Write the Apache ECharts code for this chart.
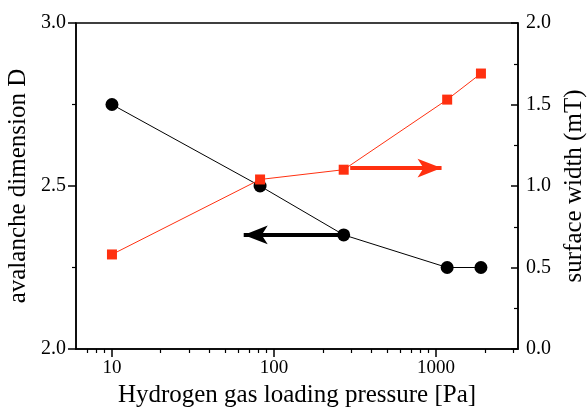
<!DOCTYPE html>
<html>
<head>
    <meta charset="UTF-8">
    <title>avalanche dimension</title>
    <script src="https://cdn.jsdelivr.net/npm/echarts@6/dist/echarts.min.js"></script>
    <style>
        html, body { margin: 0; padding: 0; background: #fff; }
        #main { width: 587px; height: 407px; }
    </style>
</head>
<body>
    <div id="main"></div>
    <script type="text/javascript">
        // data
        var pressure = [10, 82, 269, 1170, 1890];          // Pa
        var dimension = [2.75, 2.50, 2.35, 2.25, 2.25];    // left axis
        var surfaceWidth = [0.58, 1.04, 1.10, 1.53, 1.69]; // right axis, mT

        var xMin = 6, xMax = 3200;
        var majorX = [10, 100, 1000];
        var minorX = [7, 8, 9, 20, 30, 40, 50, 60, 70, 80, 90,
                      200, 300, 400, 500, 600, 700, 800, 900, 2000, 3000];

        // arrows: [start, end] in data units
        var leftArrow = [[255, 2.35], [65, 2.35]];
        var rightArrow = [[295, 1.11], [1080, 1.11]];

        var font = 'Liberation Serif';
        var red = '#ff3010';

        var myChart = echarts.init(document.getElementById('main'));

        var option = {
            animation: false,
            grid: {
                left: 76, right: 69, top: 23, bottom: 58,
                containLabel: false,
                outerBoundsMode: 'none',
                show: true, borderColor: '#000', borderWidth: 1.5,
                backgroundColor: 'transparent'
            },
            xAxis: [{
                type: 'log',
                logBase: 10,
                min: xMin,
                max: xMax,
                position: 'bottom',
                name: 'Hydrogen gas loading pressure [Pa]',
                nameLocation: 'middle',
                nameGap: 30,
                nameTextStyle: { fontFamily: font, fontSize: 25, color: '#000' },
                axisLine: { lineStyle: { color: '#000', width: 1.5 } },
                axisTick: { customValues: majorX, length: 8, lineStyle: { color: '#000', width: 1.5 } },
                axisLabel: {
                    customValues: majorX, fontFamily: font, fontSize: 19, color: '#000', margin: 10,
                    formatter: function (v) { return String(Math.round(v)); }
                },
                splitLine: { show: false },
                minorTick: { show: false }
            }, {
                // minor ticks only, drawn on a linear axis in log10 units
                type: 'value',
                min: Math.log10(xMin),
                max: Math.log10(xMax),
                position: 'bottom',
                axisLine: { show: false },
                axisTick: {
                    show: true,
                    customValues: minorX.map(function (v) { return Math.log10(v); }),
                    length: 4, lineStyle: { color: '#000', width: 1.2 }
                },
                axisLabel: { show: false },
                splitLine: { show: false }
            }],
            yAxis: [{
                type: 'value',
                min: 2,
                max: 3,
                interval: 0.5,
                position: 'left',
                name: 'avalanche dimension D',
                nameLocation: 'middle',
                nameGap: 45,
                nameMoveOverlap: false,
                nameTextStyle: { fontFamily: font, fontSize: 25, color: '#000' },
                axisLine: { show: true, lineStyle: { color: '#000', width: 1.5 } },
                axisTick: { show: true, length: 8, lineStyle: { color: '#000', width: 1.5 } },
                minorTick: { show: true, splitNumber: 2, length: 4, lineStyle: { color: '#000', width: 1.2 } },
                axisLabel: {
                    fontFamily: font, fontSize: 20, color: '#000', margin: 10,
                    formatter: function (v) { return v.toFixed(1); }
                },
                splitLine: { show: false }
            }, {
                type: 'value',
                min: 0,
                max: 2,
                interval: 0.5,
                position: 'right',
                name: 'surface width (mT)',
                nameLocation: 'middle',
                nameGap: 44,
                nameMoveOverlap: false,
                nameTextStyle: { fontFamily: font, fontSize: 25, color: '#000' },
                axisLine: { show: true, lineStyle: { color: '#000', width: 1.5 } },
                axisTick: { show: true, inside: true, length: 7, lineStyle: { color: '#000', width: 1.5 } },
                minorTick: { show: true, splitNumber: 2, length: 4, lineStyle: { color: '#000', width: 1.2 } },
                axisLabel: {
                    fontFamily: font, fontSize: 20, color: '#000', margin: 8,
                    formatter: function (v) { return v.toFixed(1); }
                },
                splitLine: { show: false }
            }],
            series: [{
                name: 'dimension',
                type: 'line',
                xAxisIndex: 0,
                yAxisIndex: 0,
                data: pressure.map(function (p, i) { return [p, dimension[i]]; }),
                symbol: 'circle',
                symbolSize: 13,
                itemStyle: { color: '#000' },
                lineStyle: { color: '#000', width: 1 },
                markLine: {
                    silent: true,
                    symbol: ['none', 'arrow'],
                    symbolSize: [14, 24],
                    label: { show: false },
                    lineStyle: { color: '#000', width: 4, type: 'solid' },
                    data: [[{ coord: leftArrow[0] }, { coord: leftArrow[1] }]]
                }
            }, {
                name: 'width',
                type: 'line',
                xAxisIndex: 0,
                yAxisIndex: 1,
                data: pressure.map(function (p, i) { return [p, surfaceWidth[i]]; }),
                symbol: 'rect',
                symbolSize: 10,
                itemStyle: { color: red },
                lineStyle: { color: red, width: 1 },
                markLine: {
                    silent: true,
                    symbol: ['none', 'arrow'],
                    symbolSize: [14, 24],
                    label: { show: false },
                    lineStyle: { color: red, width: 4, type: 'solid' },
                    data: [[{ coord: rightArrow[0] }, { coord: rightArrow[1] }]]
                }
            }]
        };

        myChart.setOption(option);
    </script>
</body>
</html>
